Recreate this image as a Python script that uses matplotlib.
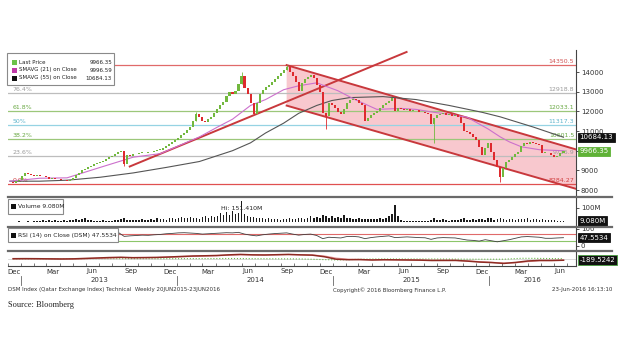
import matplotlib
matplotlib.use("Agg")
import matplotlib.pyplot as plt
import matplotlib.dates as mdates
import numpy as np
import pandas as pd
from matplotlib.lines import Line2D
from matplotlib.patches import Rectangle, Polygon

plt.rcParams["font.family"] = ["DejaVu Sans"]

W, H = 620, 355

# ---- data (weekly) ----
weeks = pd.date_range("2012-12-13", periods=185, freq="7D")
first_open = 8420
closes = [
    8400, 8380, 8450, 8520, 8700, 8850, 8800, 8760, 8720, 8740,
    8700, 8720, 8650, 8560, 8580, 8560, 8540, 8520, 8500, 8470,
    8520, 8600, 8750, 8850, 9000, 9080, 9150, 9230, 9300, 9380,
    9420, 9500, 9600, 9680, 9750, 9850, 9920, 10000, 9300, 9800,
    9750, 9850, 9820, 9880, 9900, 9870, 9920, 9950, 10000, 10050,
    10060, 10150, 10250, 10350, 10440, 10550, 10650, 10800, 10900, 11050,
    11200, 11500, 11850, 11700, 11500, 11450, 11600, 11700, 11900, 12100,
    12300, 12500, 12800, 13000, 12900, 13050, 13400, 13800, 13200, 12900,
    12450, 11850, 12450, 12900, 13100, 13250, 13350, 13500, 13650, 13800,
    13950, 14100, 14250, 14000, 13800, 13500, 13050, 13450, 13650, 13750,
    13850, 13700, 13350, 13000, 11900, 11750, 12400, 12300, 12150, 11950,
    11850, 12100, 12450, 12600, 12650, 12580, 12450, 12320, 11500, 11650,
    11800, 11900, 12000, 12150, 12300, 12400, 12550, 12700, 12000, 12150,
    12100, 12050, 12100, 12000, 12080, 12050, 11950, 11980, 11900, 11850,
    11350, 11650, 11800, 11850, 11900, 11800, 11850, 11750, 11800, 11700,
    11400, 11000, 10950, 10850, 10700, 10550, 10200, 9800, 10150, 10380,
    9950, 9550, 9150, 8650, 9100, 9400, 9550, 9700, 9850, 9950,
    10250, 10380, 10350, 10420, 10380, 10340, 10280, 9880, 9900, 9860,
    9800, 9680, 9750, 9880, 9966.35,
]
long_highs = {62: 11950, 77: 14000, 92: 14350.5}
long_lows = {38: 9200, 105: 11100, 141: 10400, 163: 8400}

ma21_wk = [0, 10, 19, 30, 41, 50, 63, 69, 74, 80, 85, 91, 96, 102, 109, 115,
           122, 130, 135, 141, 146, 152, 159, 163, 166, 170, 176, 184]
ma21_val = [8450, 8600, 8620, 9150, 9670, 9850, 10700, 11200, 11600, 12300, 12600,
            13100, 13300, 13450, 13050, 12580, 12100, 12150, 12100, 11950, 11850,
            11700, 11100, 10700, 10450, 10200, 10050, 9996.59]
ma55_wk = [0, 10, 19, 30, 41, 52, 63, 74, 80, 85, 91, 96, 102, 107, 113, 124,
           135, 146, 157, 163, 174, 184]
ma55_val = [8450, 8450, 8500, 8650, 8870, 9150, 9450, 10000, 10400, 10900, 11400,
            11900, 12300, 12550, 12700, 12750, 12600, 12300, 11950, 11720, 11200,
            10684.13]

# retracement levels (the 100% label sits under the legend box in the original)
fib_pct = ["", "76.4%", "61.8%", "50%", "38.2%", "23.6%", "0.0%"]
fib_val = [14350.5, 12918.8, 12033.1, 11317.3, 10601.5, 9715.9, 8284.27]
fib_lbl = ["14350.5", "12918.8", "12033.1", "11317.3", "10601.5", "9715.9", "8284.27"]

trend_up_dates = ["2013-09-18", "2015-06-24"]
trend_up_px = [9197, 15018]
chan_dates = ["2014-09-18", "2016-07-22"]
chan_top = [14350.5, 10066]
chan_bot = [12293, 8063]

volume = [
    3, 3, 2, 4, 3, 3, 4, 3, 5, 4,
    8, 12, 6, 14, 9, 16, 10, 7, 12, 9,
    15, 12, 20, 14, 24, 26, 18, 15, 8, 6,
    5, 14, 9, 4, 6, 12, 16, 24, 28, 18,
    14, 17, 12, 15, 20, 13, 18, 22, 16, 28,
    20, 24, 18, 26, 30, 22, 28, 34, 26, 30,
    38, 28, 32, 24, 36, 40, 30, 44, 38, 45,
    62, 48, 70, 52, 78, 58, 66, 151.41, 60, 42,
    34, 38, 30, 26, 32, 24, 28, 20, 24, 22,
    18, 24, 20, 26, 22, 25, 28, 30, 24, 26,
    45, 32, 36, 28, 48, 40, 30, 45, 30, 36,
    28, 52, 30, 26, 24, 20, 26, 22, 24, 20,
    22, 24, 20, 26, 24, 30, 40, 56, 118, 44,
    14, 8, 7, 6, 8, 7, 9, 6, 8, 10,
    18, 26, 14, 12, 22, 16, 10, 14, 12, 16,
    20, 28, 18, 14, 22, 16, 20, 24, 18, 28,
    30, 18, 22, 26, 24, 16, 20, 24, 18, 22,
    20, 22, 26, 18, 24, 20, 16, 22, 18, 14,
    16, 12, 10, 8, 9.08,
]

rsi_wk = list(range(36, 185, 2))
rsi_val = [
    78, 55, 58, 60, 62, 61, 64, 66, 70, 72,
    75, 76, 74, 72, 68, 70, 72, 74, 76, 75,
    78, 68, 62, 58, 64, 68, 71, 73, 75, 68,
    62, 66, 68, 60, 42, 50, 48, 46, 54, 55,
    52, 42, 48, 52, 55, 58, 48, 50, 52, 50,
    48, 47, 38, 46, 48, 47, 46, 40, 34, 32,
    28, 36, 30, 24, 30, 36, 44, 52, 54, 52,
    50, 44, 44, 46, 47.5534,
]

macd_wk = list(range(0, 185, 4))
macd_val = [20, 30, 20, 0, -20, 0, 60, 120, 180, 220,
            160, 180, 200, 260, 330, 400, 430, 470, 560, 620,
            560, 540, 580, 620, 560, 520, 300, -50, -120, -100,
            -160, -120, -140, -160, -180, -230, -220, -220, -320, -450,
            -520, -640, -500, -300, -220, -230, -189.52]
signal_val = [10, 25, 25, 10, -5, -10, 20, 70, 130, 180,
              180, 175, 190, 230, 290, 350, 400, 440, 510, 580,
              570, 550, 565, 600, 575, 540, 400, 100, -60, -100,
              -140, -130, -135, -150, -170, -210, -220, -220, -290, -400,
              -490, -590, -540, -380, -260, -235, -215]
dot_wk = [0, 24, 48, 72, 96, 108, 120, 140, 156, 164, 170, 176, 184]
dot_val = [0, 40, 20, 50, -10, -150, -20, -20, -50, -50, 80, 60, 20]

# ---- layout helpers (pixels -> figure fraction) ----
def fx(x):
    return x / W


def fy(y):
    return 1 - y / H


L, R = 8, 576
fig = plt.figure(figsize=(6.2, 3.55), dpi=100)


def add_panel(top, bottom):
    a = fig.add_axes([fx(L), fy(bottom), fx(R) - fx(L), (bottom - top) / H])
    for s in ("top", "left", "bottom"):
        a.spines[s].set_visible(False)
    a.spines["right"].set_color("#444444")
    a.spines["right"].set_linewidth(0.8)
    a.yaxis.tick_right()
    a.tick_params(axis="y", labelsize=5, length=2, width=0.6, pad=1.5, colors="#333333")
    a.tick_params(axis="x", bottom=False, labelbottom=False)
    return a


ax = add_panel(50, 196)
axv = add_panel(197, 226)
axr = add_panel(227, 250)
axm = add_panel(251, 266)

jan13 = mdates.date2num(pd.Timestamp("2013-01-01"))
xlim = (jan13 + (L - 18) / 157 * 365.25, jan13 + (R - 18) / 157 * 365.25)
for a in (ax, axv, axr, axm):
    a.set_xlim(xlim)

xd = mdates.date2num(weeks)
closes = np.array(closes, dtype=float)
opens = np.concatenate([[first_open], closes[:-1]])
up = closes >= opens

# ---- main price panel ----
ax.set_ylim(7697, 15119)
ax.set_yticks([8000, 9000, 10000, 11000, 12000, 13000, 14000])
ax.set_yticklabels(["8000", "9000", "", "11000", "12000", "13000", "14000"])

fib_colors = ["#e06a6a", "#bdbdbd", "#9cc77a", "#96d3e3", "#9cc77a", "#bdbdbd", "#e05050"]
fib_text = ["#d05050", "#9a9a9a", "#6aa844", "#5fb5cc", "#6aa844", "#9a9a9a", "#d04040"]
for v, c, tc, pct, lbl in zip(fib_val, fib_colors, fib_text, fib_pct, fib_lbl):
    ax.axhline(v, color=c, lw=0.9, zorder=1)
    ax.text(0.997, v + 60, lbl, transform=ax.get_yaxis_transform(), ha="right",
            va="bottom", fontsize=4.5, color=tc, zorder=2)
    if pct:
        ax.text(0.008, v + 60, pct, transform=ax.get_yaxis_transform(), ha="left",
                va="bottom", fontsize=4.5, color=tc, zorder=2)

cd = mdates.date2num(pd.to_datetime(chan_dates))
ax.add_patch(Polygon([(cd[0], chan_top[0]), (cd[1], chan_top[1]),
                      (cd[1], chan_bot[1]), (cd[0], chan_bot[0])],
                     closed=True, facecolor="#f8c8ce", edgecolor="none", zorder=0.5))
ax.plot(cd, chan_top, color="#c8383c", lw=1.4, zorder=3)
ax.plot(cd, chan_bot, color="#c8383c", lw=1.4, zorder=3)
td = mdates.date2num(pd.to_datetime(trend_up_dates))
ax.plot(td, trend_up_px, color="#c8383c", lw=1.4, zorder=3)

ax.plot(xd[ma55_wk], ma55_val, color="#555555", lw=0.8, zorder=3.5)
ax.plot(xd[ma21_wk], ma21_val, color="#cc70cc", lw=0.8, zorder=3.5)

for i, (hi, lo) in enumerate(zip(np.maximum(opens, closes), np.minimum(opens, closes))):
    c = "#72b83e" if up[i] else "#de2a2e"
    top = long_highs.get(i, hi)
    bot = long_lows.get(i, lo)
    if top > hi or bot < lo:
        ax.vlines(xd[i], bot, top, color=c, lw=0.6, zorder=4)
body = np.maximum(np.abs(closes - opens), 30)
ax.bar(xd, body, bottom=np.minimum(opens, closes), width=4.8,
       color=np.where(up, "#72b83e", "#de2a2e"), linewidth=0, zorder=4)


def tag(a, yval, text, fc, tc="white", ec=None):
    a.text(1.006, yval, text, transform=a.get_yaxis_transform(), ha="left", va="center",
           fontsize=5, color=tc, zorder=10, clip_on=False,
           bbox=dict(boxstyle="square,pad=0.25", fc=fc, ec=ec or fc, lw=0.6))


tag(ax, 10684.13, "10684.13", "#111111")
tag(ax, 9966.35, "9966.35", "#5fb236")

# ---- volume panel ----
axv.set_ylim(-28, 178)
axv.set_yticks([100])
axv.set_yticklabels(["100M"])
axv.bar(xd, volume, width=3.6, color="#1a1a1a", linewidth=0, zorder=3)
imax = int(np.argmax(volume))
axv.annotate("Hi: 151.410M", xy=(xd[imax], volume[imax]), xytext=(0, -4),
             textcoords="offset points", ha="center", va="top", fontsize=4.5,
             color="#222222", zorder=4)
tag(axv, 9.08, "9.080M", "#111111")

# ---- RSI panel ----
axr.set_ylim(-22.9, 108.6)
axr.set_yticks([0, 100])
axr.axhline(70, color="#e06a6a", lw=0.8, zorder=1)
axr.axhline(30, color="#8cc66a", lw=0.8, zorder=1)
axr.plot(xd[rsi_wk], rsi_val, color="#404040", lw=0.6, zorder=3)
tag(axr, 47.5534, "47.5534", "#111111")

# ---- MACD panel ----
axm.set_ylim(-1000, 1100)
axm.set_yticks([])
axm.axhline(0, color="#cccccc", lw=0.5, zorder=1)
axm.plot(xd[dot_wk], dot_val, color="#6ab84a", lw=0.8, ls=":", zorder=2)
axm.plot(xd[macd_wk], signal_val, color="#e79a9a", lw=0.9, zorder=3)
axm.plot(xd[macd_wk], macd_val, color="#8e2a22", lw=1.1, zorder=4)
tag(axm, -189.52, "-189.5242", "#111111", ec="#4aa040")

axm.spines["bottom"].set_visible(True)
axm.spines["bottom"].set_color("#444444")
axm.spines["bottom"].set_linewidth(0.8)
months = pd.date_range("2012-12-01", "2016-07-01", freq="MS")
axm.set_xticks(mdates.date2num(months))
axm.tick_params(axis="x", bottom=True, direction="in", length=2, width=0.5,
                colors="#444444", labelbottom=False)
xt = axm.get_xaxis_transform()
for m in months:
    if m.month in (12, 3, 6, 9):
        axm.text(mdates.date2num(m + pd.Timedelta(days=14)), -(271.5 - 266) / 15,
                 m.strftime("%b"), transform=xt, ha="center", va="center",
                 fontsize=5, color="#333333", clip_on=False)
for yr in [2013, 2014, 2015, 2016]:
    x0 = mdates.date2num(pd.Timestamp(f"{yr}-01-01"))
    x1 = min(mdates.date2num(pd.Timestamp(f"{yr + 1}-01-01")), xlim[1])
    axm.plot([x0, x0], [-(276 - 266) / 15, -(285 - 266) / 15], transform=xt,
             color="#666666", lw=0.6, clip_on=False)
    axm.text((x0 + x1) / 2, -(280 - 266) / 15, str(yr), transform=xt, ha="center",
             va="center", fontsize=5, color="#333333", clip_on=False)

# ---- panel separators ----
for ysep in (196.5, 226.5, 250.5):
    fig.add_artist(Line2D([fx(8), fx(612)], [fy(ysep)] * 2, color="#6a6a6a", lw=1.6))

# ---- legend boxes ----
def box(x0, y0, x1, y1):
    fig.add_artist(Rectangle((fx(x0), fy(y1)), fx(x1) - fx(x0), (y1 - y0) / H,
                             facecolor="white", edgecolor="#8a8a8a", lw=0.8, zorder=20))


def swatch(x, y, color):
    fig.add_artist(Rectangle((fx(x), fy(y + 2.5)), 5 / W, 5 / H, facecolor=color,
                             edgecolor="none", zorder=21))


box(7, 53, 114, 85)
rows = [("Last Price", "9966.35", "#6cc24a", 62),
        ("SMAVG (21) on Close", "9996.59", "#c03aa8", 70),
        ("SMAVG (55) on Close", "10684.13", "#111111", 78)]
for name, val, col, yy in rows:
    swatch(12, yy, col)
    fig.text(fx(19), fy(yy), name, fontsize=4.0, va="center", ha="left", color="#222222", zorder=22)
    fig.text(fx(112), fy(yy), val, fontsize=4.0, va="center", ha="right", color="#222222", zorder=22)

box(8, 199, 63, 214)
swatch(11, 206.5, "#111111")
fig.text(fx(18), fy(206.5), "Volume 9.080M", fontsize=4.3, va="center", ha="left", color="#222222", zorder=22)

box(8, 228, 118, 242)
swatch(11, 235, "#111111")
fig.text(fx(18), fy(235), "RSI (14) on Close (DSM) 47.5534", fontsize=4.3, va="center",
         ha="left", color="#222222", zorder=22)

# ---- footer ----
fig.text(fx(8), fy(290), "DSM Index (Qatar Exchange Index) Technical  Weekly 20JUN2015-23JUN2016",
         fontsize=4.0, va="center", ha="left", color="#333333")
fig.text(fx(333), fy(290), "Copyright\u00a9 2016 Bloomberg Finance L.P.", fontsize=4.0,
         va="center", ha="left", color="#333333")
fig.text(fx(612), fy(290), "23-Jun-2016 16:13:10", fontsize=4.0, va="center", ha="right",
         color="#333333")
fig.text(fx(8), fy(305), "Source: Bloomberg", fontsize=6, va="center", ha="left",
         color="#222222", family="Liberation Serif")

fig.savefig("out.png", dpi=100, facecolor="white")
